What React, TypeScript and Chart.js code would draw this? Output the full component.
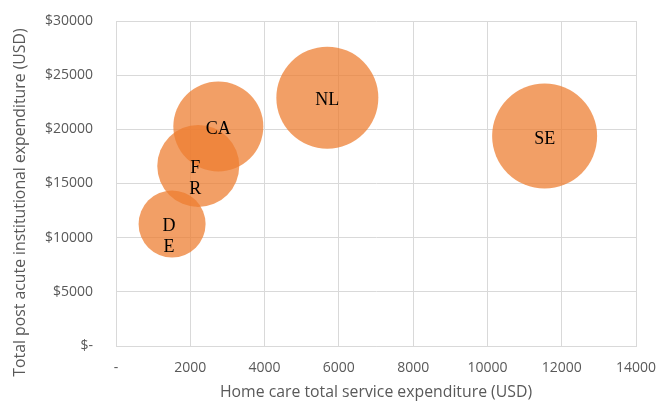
import React, { useEffect, useRef } from "react";
import { Chart, registerables } from "chart.js";

Chart.register(...registerables);

const countries = ["DE", "FR", "CA", "NL", "SE"];
const labelLines = [["D", "E"], ["F", "R"], ["CA"], ["NL"], ["SE"]];
const homeCare = [1510, 2215, 2755, 5690, 11540];
const institutional = [11260, 16620, 20260, 22920, 19380];
const bubbleSize = [33.5, 41, 45, 51, 52.5];
const xTickLabels = ["-", "2000", "4000", "6000", "8000", "10000", "12000", "14000"];
const yTickLabels = ["$-", "$5000", "$10000", "$15000", "$20000", "$25000", "$30000"];
const xTitle = "Home care total service expenditure (USD)";
const yTitle = "Total post acute institutional expenditure (USD)";

const labelPlugin = {
  id: "bubbleLabels",
  afterDatasetsDraw(chart: any) {
    const ctx = chart.ctx;
    const meta = chart.getDatasetMeta(0);
    ctx.save();
    ctx.font = '18px "Liberation Serif", "Times New Roman", serif';
    ctx.fillStyle = "#000000";
    ctx.textAlign = "center";
    ctx.textBaseline = "middle";
    meta.data.forEach((el: any, i: number) => {
      const lines = labelLines[i];
      if (lines.length === 1) {
        ctx.fillText(lines[0], el.x, el.y + 3);
      } else {
        lines.forEach((t: string, j: number) => {
          ctx.fillText(t, el.x - 3, el.y + 2 + j * 21);
        });
      }
    });
    ctx.restore();
  },
};

const yTitlePlugin = {
  id: "yTitle",
  afterDraw(chart: any) {
    const ctx = chart.ctx;
    const area = chart.chartArea;
    ctx.save();
    ctx.font = '15.8px "Open Sans"';
    ctx.fillStyle = "#595959";
    ctx.textAlign = "center";
    ctx.textBaseline = "middle";
    ctx.translate(20, (area.top + area.bottom) / 2 + 19);
    ctx.rotate(-Math.PI / 2);
    ctx.fillText(yTitle, 0, 0);
    ctx.restore();
  },
};

export default function App() {
  const ref = useRef<HTMLCanvasElement>(null);
  useEffect(() => {
    document.body.style.margin = "0";
    const chart = new Chart(ref.current!, {
      type: "bubble",
      data: {
        datasets: [
          {
            label: "Countries",
            data: countries.map((c, i) => ({ x: homeCare[i], y: institutional[i], r: bubbleSize[i] })),
            backgroundColor: "rgba(237,125,49,0.74)",
            borderWidth: 0,
            hoverBorderWidth: 0,
            hoverRadius: 0,
            clip: false,
          },
        ],
      },
      options: {
        responsive: false,
        animation: false,
        events: [],
        layout: { autoPadding: false, padding: { left: 0, top: 21, right: 23, bottom: 0 } },
        plugins: { legend: { display: false }, tooltip: { enabled: false } },
        scales: {
          x: {
            type: "linear",
            min: 0,
            max: 14000,
            afterFit: (s: any) => {
              s.height = 56;
              s.paddingLeft = 0;
              s.paddingRight = 0;
              s.paddingTop = 0;
              s.paddingBottom = 0;
            },
            ticks: {
              stepSize: 2000,
              padding: 14,
              color: "#595959",
              font: { family: '"Open Sans"', size: 14 },
              callback: (v: any) => xTickLabels[Math.round(Number(v) / 2000)],
              maxRotation: 0,
            },
            grid: { color: "#d9d9d9", drawTicks: false },
            border: { color: "#d9d9d9" },
            title: {
              display: true,
              text: xTitle,
              color: "#595959",
              font: { family: '"Open Sans"', size: 15.8 },
              padding: { top: 0, bottom: 0 },
            },
          },
          y: {
            type: "linear",
            min: 0,
            max: 30000,
            afterFit: (s: any) => {
              s.width = 116;
              s.paddingLeft = 0;
              s.paddingRight = 0;
              s.paddingTop = 0;
              s.paddingBottom = 0;
            },
            ticks: {
              stepSize: 5000,
              padding: 23,
              color: "#595959",
              font: { family: '"Open Sans"', size: 14 },
              callback: (v: any) => yTickLabels[Math.round(Number(v) / 5000)],
            },
            grid: { color: "#d9d9d9", drawTicks: false },
            border: { color: "#d9d9d9" },
            title: { display: false },
          },
        },
      },
      plugins: [labelPlugin, yTitlePlugin],
    });
    return () => chart.destroy();
  }, []);
  return (
    <div style={{ width: 659, height: 402, background: "#fff" }}>
      <canvas ref={ref} width={659} height={402} />
    </div>
  );
}
